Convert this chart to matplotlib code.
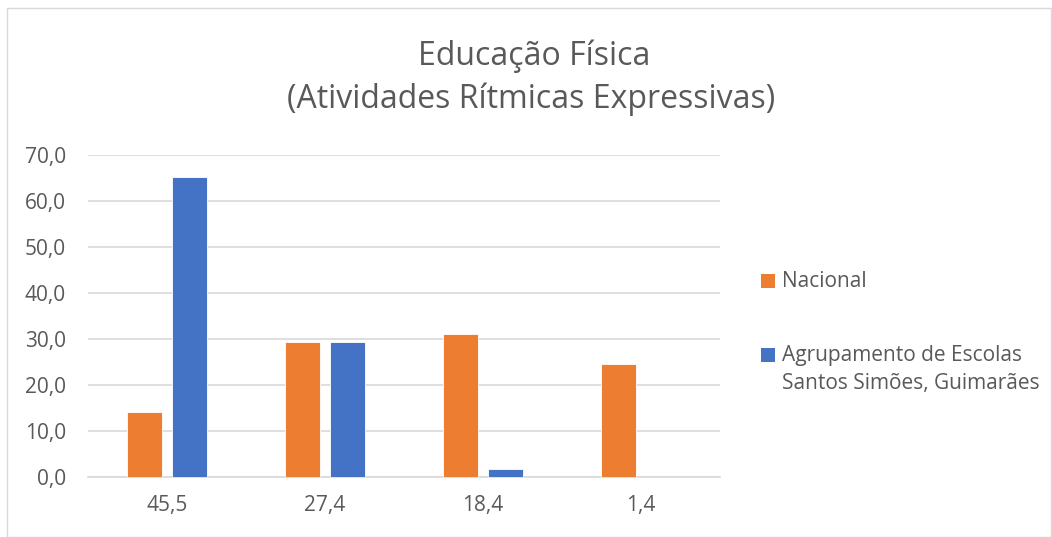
import matplotlib
matplotlib.use("Agg")
import matplotlib.pyplot as plt
import numpy as np
from matplotlib.patches import Rectangle

categories = ["45,5", "27,4", "18,4", "1,4"]
nacional = [14.1, 29.3, 31.0, 24.4]
agrupamento = [65.1, 29.3, 1.7, 0.0]
series_names = ["Nacional", "Agrupamento de Escolas\nSantos Simões, Guimarães"]
yticks = [0, 10, 20, 30, 40, 50, 60, 70]

plt.rcParams['font.family'] = ['Open Sans', 'DejaVu Sans']

W, H = 1052, 537
fig = plt.figure(figsize=(W/100, H/100), dpi=100)
ax = fig.add_axes([88/W, 1-476.7/H, (720-88)/W, (476.7-154.7)/H])

x = np.arange(len(categories))
bw = 0.222
gap = 0.063
c_or = "#ED7D31"
c_bl = "#4472C4"
colors = [c_or, c_bl]
ax.bar(x - (bw+gap)/2, nacional, bw, color=c_or, edgecolor="white", linewidth=0.6, zorder=3)
ax.bar(x + (bw+gap)/2, agrupamento, bw, color=c_bl, edgecolor="white", linewidth=0.6, zorder=3)

ax.set_xlim(-0.5, len(categories)-0.5)
ax.set_ylim(0, 70)
ax.set_yticks(yticks)
ax.set_yticklabels([f"{v:.1f}".replace(".", ",") for v in yticks])
ax.set_xticks(x)
ax.set_xticklabels(categories)
ax.yaxis.grid(True, color="#D9D9D9", linewidth=1.2, zorder=0)
ax.set_axisbelow(True)
for s in ax.spines.values():
    s.set_visible(False)
ax.spines['bottom'].set_visible(True)
ax.spines['bottom'].set_color("#D9D9D9")
ax.spines['bottom'].set_linewidth(1.2)
ax.tick_params(axis='both', length=0, labelsize=15, colors="#595959")
ax.tick_params(axis='y', pad=16)
ax.tick_params(axis='x', pad=13)

tc = "#595959"
fig.text(534/W, 1-65/H, "Educação Física", ha="center", va="baseline", fontsize=23, color=tc)
fig.text(531/W, 1-108/H, "(Atividades Rítmicas Expressivas)", ha="center", va="baseline", fontsize=23, color=tc)

# legend (drawn manually to match first-line alignment)
leg_y = [287.5, 361.7]
for i, (name, col) in enumerate(zip(series_names, colors)):
    fig.patches.append(Rectangle((761/W, 1-leg_y[i]/H), 14/W, 14/H, transform=fig.transFigure,
                                 facecolor=col, edgecolor="none"))
    for j, line in enumerate(name.split("\n")):
        fig.text(781.5/W, 1-(leg_y[i]-0.5 + j*28.3)/H, line, ha="left", va="baseline",
                 fontsize=15, color=tc)

fig.patches.append(Rectangle((7/W, 0), 1-8/W, 1-8/H, transform=fig.transFigure,
                             fill=False, edgecolor="#D9D9D9", linewidth=1))

fig.savefig("out.png", dpi=100, facecolor="white")
